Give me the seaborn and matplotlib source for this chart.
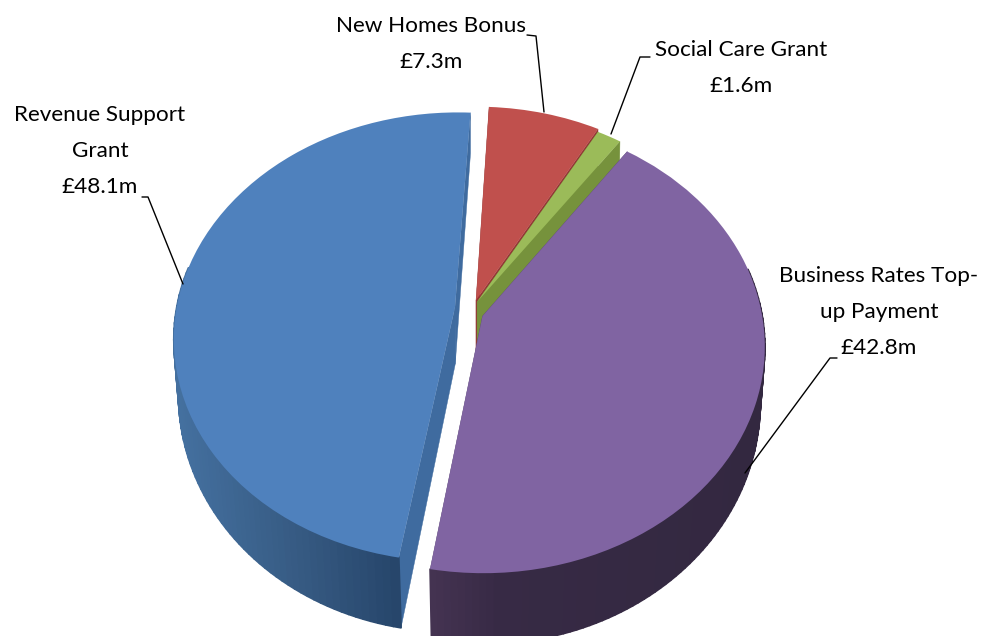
import numpy as np
import matplotlib
matplotlib.use("Agg")
import matplotlib.pyplot as plt
from matplotlib.collections import PolyCollection
from matplotlib.colors import to_rgb
from matplotlib.transforms import Transform
import seaborn as sns

# Data, clockwise from the top of the pie
labels = ["New Homes Bonus\n£7.3m", "Social Care Grant\n£1.6m",
          "Business Rates Top-\nup Payment\n£42.8m",
          "Revenue Support\nGrant\n£48.1m"]
values = [7.3, 1.6, 42.8, 48.1]

# Styles
top_colors = sns.color_palette(["#c0504d", "#9bbb59", "#8064a2", "#4f81bd"])
cut_colors = ["#953735", "#76923c", "#5f4a7a", "#3f6b9f"]
side_stops = [[(400, "#7a2d2b"), (600, "#7a2d2b")],
              [(500, "#76923c"), (700, "#76923c")],
              [(430, "#453352"), (500, "#372a45"), (760, "#332840")],
              [(180, "#44709f"), (300, "#365a82"), (400, "#26456a")]]
centers = [(-0.007, 0.058), (-0.003, 0.05), (0.016, -0.014), (-0.082, 0.025)]
radii = [0.99, 0.98, 0.99, 0.99]
draw_order = [3, 0, 1, 2]

XA, YA_TOP, YA_BOT = 478.0, 313.0, 370.0
A_TOP, B_TOP, K_TOP = 282.0, 224.4, 0.1335
A_BOT, B_BOT, K_BOT = 278.0, 240.0, 0.12


def project(uv, a, b, k, ya):
    uv = np.asarray(uv, float)
    w = 1 + k * uv[..., 1]
    return np.stack([XA + a * uv[..., 0] / w, ya - b * uv[..., 1] / w], axis=-1)


class Tilt(Transform):
    """Perspective view of the pie plane onto the canvas."""
    input_dims = output_dims = 2
    is_affine = False

    def transform_non_affine(self, values):
        return project(values, A_TOP, B_TOP, K_TOP, YA_TOP)


def top(uv):
    return project(uv, A_TOP, B_TOP, K_TOP, YA_TOP)


def bot(uv):
    return project(uv, A_BOT, B_BOT, K_BOT, YA_BOT)


def stop_color(stops, x):
    xs = [s[0] for s in stops]
    cs = np.array([to_rgb(s[1]) for s in stops])
    return tuple(np.interp(x, xs, cs[:, i]) for i in range(3))


sns.set_theme(style="white")
plt.rcParams["font.family"] = ["Lato", "DejaVu Sans"]

fig = plt.figure(figsize=(9.82, 6.36), dpi=100)
ax = fig.add_axes([0, 0, 1, 1])
wedges, _ = ax.pie(values, colors=top_colors, startangle=87, counterclock=False,
                   wedgeprops={"linewidth": 0})
ax.set_aspect("auto")
ax.set_xlim(0, 982)
ax.set_ylim(636, 0)
ax.axis("off")

tilt = Tilt()
for rank, i in enumerate(draw_order):
    w = wedges[i]
    w.set_center(centers[i])
    w.set_radius(radii[i])
    w.set_transform(tilt + ax.transData)
    w.set_zorder(10 * rank + 3)
    c = np.array(centers[i])
    r = radii[i]
    t1, t2 = w.theta1, w.theta2

    # flat cut faces
    for t in (t1, t2):
        a = np.radians(t)
        corner = c + r * np.array([np.cos(a), np.sin(a)])
        poly = [top(c), top(corner), bot(corner), bot(c)]
        ax.fill([p[0] for p in poly], [p[1] for p in poly], color=cut_colors[i],
                lw=0.3, zorder=10 * rank + 1)

    # curved outer wall, shaded along the canvas
    th = np.radians(np.linspace(t1, t2, 121))
    arc = c + r * np.stack([np.cos(th), np.sin(th)], axis=-1)
    ta, ba = top(arc), bot(arc)
    quads, cols = [], []
    for j in range(len(th) - 1):
        if np.sin(th[j]) > 0.2:
            continue
        quads.append([ta[j], ta[j + 1], ba[j + 1], ba[j]])
        cols.append(stop_color(side_stops[i], 0.5 * (ta[j][0] + ta[j + 1][0])))
    if quads:
        ax.add_collection(PolyCollection(quads, facecolors=cols, edgecolors=cols,
                                         linewidths=1.3, zorder=10 * rank + 2))

# Labels
text_pos = [(431, 44), (741, 68), (879, 312), (100, 151)]
leaders = [[(527, 35), (536, 36), (544, 112)],
           [(650, 57), (640, 57), (611, 134)],
           [(837, 358), (830, 358), (745, 473)],
           [(142, 197), (148, 197), (183, 284)]]
for lab, pos, ld in zip(labels, text_pos, leaders):
    ax.text(pos[0], pos[1], lab, ha="center", va="center", fontsize=16.2,
            color="black", linespacing=2.03, zorder=100)
    ax.plot([p[0] for p in ld], [p[1] for p in ld], color="black", lw=1.0, zorder=100)

fig.savefig("out.png", dpi=100, facecolor="white")
